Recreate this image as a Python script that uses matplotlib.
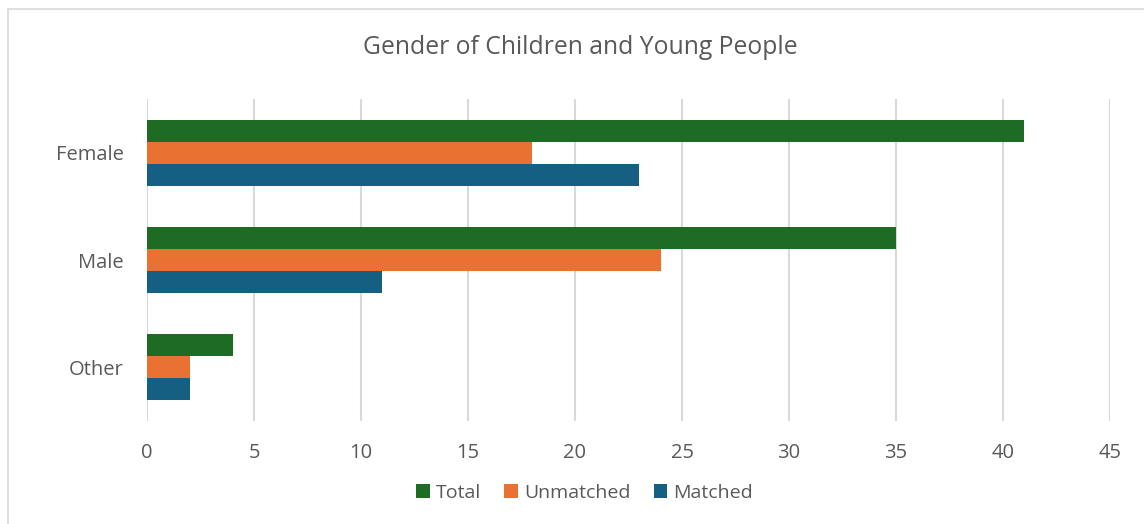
import matplotlib.pyplot as plt
import matplotlib.patches as mpatches
import numpy as np

categories = ["Female", "Male", "Other"]
total = [41, 35, 4]
unmatched = [18, 24, 2]
matched = [23, 11, 2]

plt.rcParams['font.family'] = ['Open Sans', 'DejaVu Sans']
grey = "#595959"

fig = plt.figure(figsize=(11.44, 5.24), dpi=100)
ax = fig.add_axes([147/1144, 1 - 421/524, (1110 - 147)/1144, (421 - 99)/524])

# border round the chart
fig.patches.append(mpatches.Rectangle((8/1144, -0.05), 1.05, 1 - 9/524 + 0.05,
                                      transform=fig.transFigure, fill=False,
                                      edgecolor="#D9D9D9", linewidth=1.2))

y = np.arange(len(categories))
h = 0.205
ax.barh(y - h, total, height=h, color="#1E6B24", label="Total")
ax.barh(y, unmatched, height=h, color="#E97132", label="Unmatched")
ax.barh(y + h, matched, height=h, color="#156082", label="Matched")

ax.set_ylim(2.5, -0.5)
ax.set_xlim(0, 45)
ax.set_xticks(range(0, 46, 5))
ax.set_yticks(y)
ax.set_yticklabels(categories)
ax.xaxis.grid(True, color="#D9D9D9", linewidth=1.5)
ax.set_axisbelow(True)
for s in ax.spines.values():
    s.set_visible(False)
ax.tick_params(length=0, labelsize=14.5, colors=grey)
ax.tick_params(axis='y', pad=17)
ax.tick_params(axis='x', pad=16)

fig.text(0.507, 1 - 47/524, "Gender of Children and Young People",
         ha="center", va="center", fontsize=17.8, color=grey)

leg = fig.legend(loc="center", bbox_to_anchor=(0.511, 1 - 493/524), ncol=3,
                 frameon=False, fontsize=14, handlelength=0.7, handleheight=0.7,
                 handletextpad=0.3, columnspacing=1.2)
for t in leg.get_texts():
    t.set_color(grey)

fig.savefig("out.png", dpi=100)
